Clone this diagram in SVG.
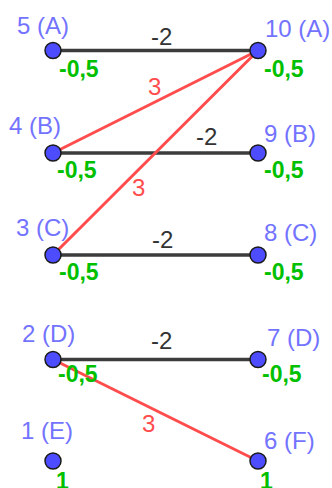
<svg xmlns="http://www.w3.org/2000/svg" width="332" height="488" viewBox="0 0 332 488">
<style>
.e{stroke:#3c3c3c;stroke-width:3.5;stroke-linecap:round}
.r{stroke:#ff4c4c;stroke-width:3;stroke-linecap:round}
.el{font-family:"Liberation Sans",Arial,sans-serif;font-size:24px;fill:#333}
.rl{font-family:"Liberation Sans",Arial,sans-serif;font-size:24px;fill:#ff4c4c}
.n{fill:#4d4dff;stroke:#1a1a1a;stroke-width:1.5}
.lb{font-family:"Liberation Sans",Arial,sans-serif;font-size:24px;fill:#7373ff}
.w{font-family:"Liberation Sans",Arial,sans-serif;font-size:23px;font-weight:bold;fill:#00c000}
</style>
<rect width="332" height="488" fill="#fff"/>
<g id="connectors">
<line class="e" x1="53" y1="50.5" x2="258" y2="50.5"/>
<line class="e" x1="53" y1="153" x2="258" y2="153"/>
<line class="e" x1="53" y1="255" x2="258" y2="255"/>
<line class="e" x1="53" y1="359.5" x2="258" y2="359.5"/>
<line class="r" x1="258" y1="50.5" x2="53" y2="153"/>
<line class="r" x1="258" y1="50.5" x2="53" y2="255"/>
<line class="r" x1="53" y1="359.5" x2="258" y2="461"/>
<text class="el" x="151" y="45">-2</text>
<text class="el" x="196" y="145">-2</text>
<text class="el" x="152" y="248">-2</text>
<text class="el" x="151" y="349">-2</text>
<text class="rl" x="148" y="95">3</text>
<text class="rl" x="132" y="196">3</text>
<text class="rl" x="142" y="432">3</text>
</g>
<g id="n5"><circle class="n" cx="53" cy="50.5" r="8"/><text class="lb" x="17" y="34">5 (A)</text><text class="w" x="59" y="77">-0,5</text></g>
<g id="n10"><circle class="n" cx="258" cy="50.5" r="8"/><text class="lb" x="265" y="37">10 (A)</text><text class="w" x="264" y="77">-0,5</text></g>
<g id="n4"><circle class="n" cx="53" cy="153" r="8"/><text class="lb" x="9" y="134">4 (B)</text><text class="w" x="57" y="178">-0,5</text></g>
<g id="n9"><circle class="n" cx="258" cy="153" r="8"/><text class="lb" x="264" y="142">9 (B)</text><text class="w" x="264" y="178">-0,5</text></g>
<g id="n3"><circle class="n" cx="53" cy="255" r="8"/><text class="lb" x="16" y="236">3 (C)</text><text class="w" x="59" y="280">-0,5</text></g>
<g id="n8"><circle class="n" cx="258" cy="255" r="8"/><text class="lb" x="264" y="241">8 (C)</text><text class="w" x="264" y="280">-0,5</text></g>
<g id="n2"><circle class="n" cx="53" cy="359.5" r="8"/><text class="lb" x="22" y="342">2 (D)</text><text class="w" x="58" y="382">-0,5</text></g>
<g id="n7"><circle class="n" cx="258" cy="359.5" r="8"/><text class="lb" x="267" y="346">7 (D)</text><text class="w" x="262" y="382">-0,5</text></g>
<g id="n1"><circle class="n" cx="53" cy="461" r="8"/><text class="lb" x="21" y="439">1 (E)</text><text class="w" x="56" y="489">1</text></g>
<g id="n6"><circle class="n" cx="258" cy="461" r="8"/><text class="lb" x="264" y="449">6 (F)</text><text class="w" x="260" y="489">1</text></g>
</svg>
